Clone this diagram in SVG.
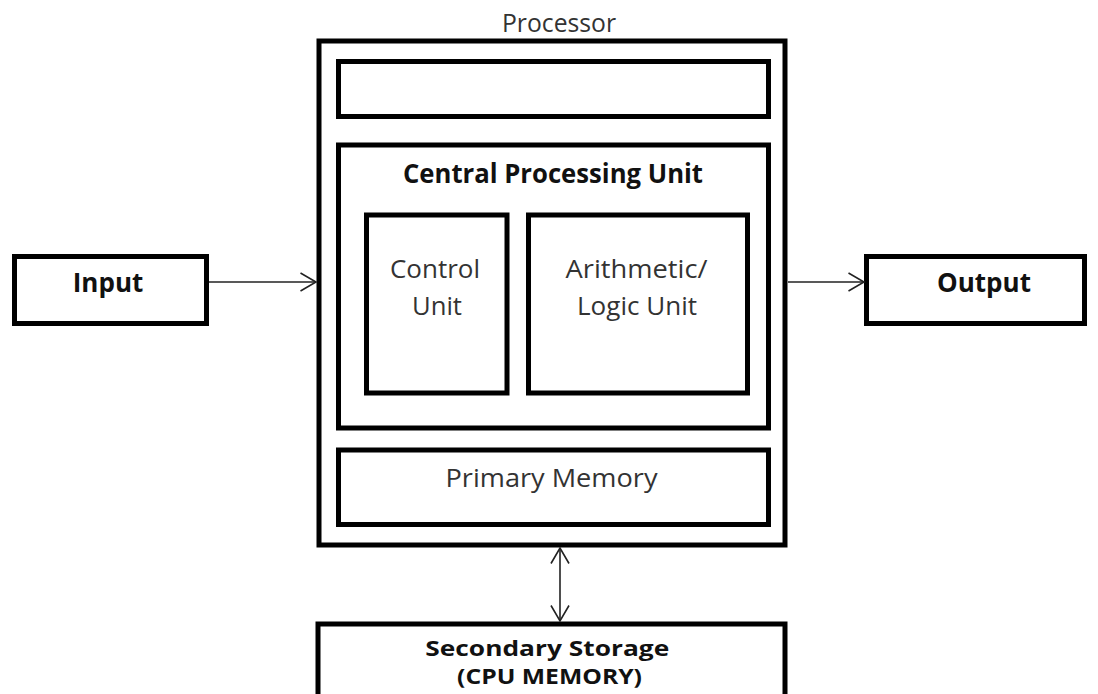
<svg xmlns="http://www.w3.org/2000/svg" width="1098" height="694" viewBox="0 0 1098 694">
  <defs>
    <style>
      .box { fill: #fff; stroke: #000; stroke-width: 5; }
      .wire { fill: none; stroke: #222; stroke-width: 1.6; }
      .lbl { font-family: "Open Sans", "Liberation Sans", sans-serif; fill: #333; text-anchor: middle; }
      .reg { font-size: 25px; }
      .bold { font-size: 26px; font-weight: bold; fill: #111; }
      .small { font-size: 21px; }
    </style>
    <marker id="open" viewBox="0 0 18 20" refX="16.5" refY="10" markerWidth="18" markerHeight="20" markerUnits="userSpaceOnUse" orient="auto-start-reverse">
      <path d="M1,1 L16.5,10 L1,19" fill="none" stroke="#222" stroke-width="1.6"/>
    </marker>
  </defs>
  <rect width="1098" height="694" fill="#fff"/>

  <g id="processor">
    <text class="lbl reg" x="559" y="32" textLength="114" lengthAdjust="spacingAndGlyphs">Processor</text>
    <rect class="box" x="319" y="41" width="466" height="504"/>
  </g>

  <g id="blank-bar">
    <rect class="box" x="338.5" y="61.5" width="430" height="55"/>
  </g>

  <g id="cpu">
    <rect class="box" x="338.5" y="145" width="430" height="283"/>
    <text class="lbl bold" x="553" y="183" textLength="300" lengthAdjust="spacingAndGlyphs">Central Processing Unit</text>
  </g>

  <g id="control-unit">
    <rect class="box" x="366.5" y="215" width="140.5" height="178"/>
    <text class="lbl reg" x="435" y="278" textLength="90" lengthAdjust="spacingAndGlyphs">Control</text>
    <text class="lbl reg" x="437" y="315" textLength="50" lengthAdjust="spacingAndGlyphs">Unit</text>
  </g>

  <g id="alu">
    <rect class="box" x="528.5" y="215" width="219" height="178"/>
    <text class="lbl reg" x="636.5" y="278" textLength="142" lengthAdjust="spacingAndGlyphs">Arithmetic/</text>
    <text class="lbl reg" x="637" y="315" textLength="120" lengthAdjust="spacingAndGlyphs">Logic Unit</text>
  </g>

  <g id="primary-memory">
    <rect class="box" x="338.5" y="450" width="430" height="74.5"/>
    <text class="lbl reg" x="551.5" y="487" textLength="212" lengthAdjust="spacingAndGlyphs">Primary Memory</text>
  </g>

  <g id="input">
    <rect class="box" x="14.5" y="256.5" width="192" height="67"/>
    <text class="lbl bold" x="108" y="292">Input</text>
  </g>

  <g id="output">
    <rect class="box" x="866.5" y="256.5" width="218" height="67"/>
    <text class="lbl bold" x="984" y="292">Output</text>
  </g>

  <g id="secondary-storage">
    <rect class="box" x="318" y="624" width="467" height="90"/>
    <text class="lbl bold small">
      <tspan x="550" y="656" textLength="244" lengthAdjust="spacingAndGlyphs">Secondary Storage</tspan>
      <tspan x="549.5" y="684" textLength="185" lengthAdjust="spacingAndGlyphs">(CPU MEMORY)</tspan>
    </text>
  </g>

  <g id="connectors">
    <line class="wire" x1="209" y1="282" x2="316" y2="282" marker-end="url(#open)"/>
    <line class="wire" x1="788" y1="282" x2="864" y2="282" marker-end="url(#open)"/>
    <line class="wire" x1="560" y1="548" x2="560" y2="621" marker-start="url(#open)" marker-end="url(#open)"/>
  </g>
</svg>
